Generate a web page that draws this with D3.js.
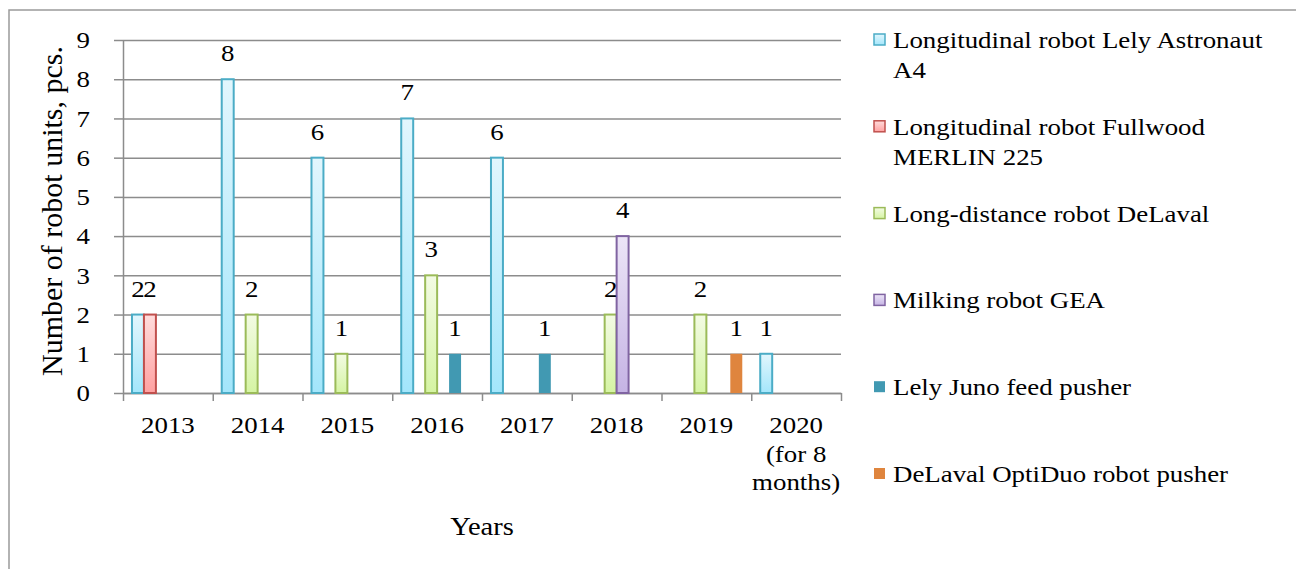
<!DOCTYPE html>
<html>
<head>
<meta charset="utf-8">
<script src="https://cdn.jsdelivr.net/npm/d3@7"></script>
<style>
  body { margin: 0; background: #fff; }
  svg text { font-family: "Liberation Serif", "Times New Roman", serif; fill: #000; }
</style>
</head>
<body>
<svg id="chart"></svg>
<script>
const years = ["2013", "2014", "2015", "2016", "2017", "2018", "2019", "2020"]
const yearLines = [["2013"], ["2014"], ["2015"], ["2016"], ["2017"], ["2018"], ["2019"], ["2020", "(for 8", "months)"]]

const seriesNames = [
  "Longitudinal robot Lely Astronaut A4",
  "Longitudinal robot Fullwood MERLIN 225",
  "Long-distance robot DeLaval",
  "Milking robot GEA",
  "Lely Juno feed pusher",
  "DeLaval OptiDuo robot pusher"
]
const legendLines = [
  ["Longitudinal robot Lely Astronaut", "A4"],
  ["Longitudinal robot Fullwood", "MERLIN 225"],
  ["Long-distance robot DeLaval"],
  ["Milking robot GEA"],
  ["Lely Juno feed pusher"],
  ["DeLaval OptiDuo robot pusher"]
]

const lelyA4     = [2, 8, 6, 7, 6, 0, 0, 1]
const fullwood   = [2, 0, 0, 0, 0, 0, 0, 0]
const delavalLD  = [0, 2, 1, 3, 0, 2, 2, 0]
const gea        = [0, 0, 0, 0, 0, 4, 0, 0]
const juno       = [0, 0, 0, 1, 1, 0, 0, 0]
const optiDuo    = [0, 0, 0, 0, 0, 0, 1, 0]
const seriesValues = [lelyA4, fullwood, delavalLD, gea, juno, optiDuo]

const yTicks = [0, 1, 2, 3, 4, 5, 6, 7, 8, 9]

// fill gradients (top, bottom) and outlines, Excel-ish
const colors = [
  { top: "#e2f6fd", bottom: "#a3e6fb", stroke: "#4bacc6" },
  { top: "#ffdcdc", bottom: "#ffa1a1", stroke: "#c0504d" },
  { top: "#f3fbe4", bottom: "#d5f4a3", stroke: "#9bbb59" },
  { top: "#ece5f7", bottom: "#c5b3e4", stroke: "#8064a2" },
  { top: "#4199b2", bottom: "#4199b2", stroke: "none" },
  { top: "#df853e", bottom: "#df853e", stroke: "none" }
]

const W = 1296, H = 569
const SX = 1.12  // the source text is a bit wider than it is tall
const plotLeft = 123, plotRight = 841, plotTop = 40, plotBottom = 393

const svg = d3.select("#chart").attr("width", W).attr("height", H)

// outer frame (only top and left edges are in view)
svg.append("rect")
  .attr("x", 9).attr("y", 10)
  .attr("width", 1400).attr("height", 700)
  .attr("fill", "none").attr("stroke", "#9a9a9a").attr("stroke-width", 1.5)

const defs = svg.append("defs")
colors.forEach((c, i) => {
  const g = defs.append("linearGradient").attr("id", "grad" + i)
    .attr("x1", 0).attr("y1", 0).attr("x2", 0).attr("y2", 1)
  g.append("stop").attr("offset", "0%").attr("stop-color", c.top)
  g.append("stop").attr("offset", "100%").attr("stop-color", c.bottom)
})

const x0 = d3.scaleBand().domain(years).range([plotLeft, plotRight]).padding(0)
const x1 = d3.scaleBand().domain(d3.range(seriesNames.length))
  .range([0, x0.bandwidth()]).paddingInner(0).paddingOuter(0.75)
const y = d3.scaleLinear().domain([0, 9]).range([plotBottom, plotTop])

function stretchText(sel) {
  sel.attr("transform", "scale(" + SX + ",1)")
     .attr("x", function() { return (+this.getAttribute("x") || 0) / SX })
}

// gridlines
svg.append("g")
  .attr("transform", "translate(" + plotLeft + ",0)")
  .call(d3.axisLeft(y).tickValues(yTicks).tickSize(-(plotRight - plotLeft)).tickFormat(""))
  .call(g => g.select(".domain").remove())
  .call(g => g.selectAll("line").attr("stroke", "#8c8c8c").attr("stroke-width", 1.5))

// y axis
svg.append("g")
  .attr("transform", "translate(" + plotLeft + ",0)")
  .call(d3.axisLeft(y).tickValues(yTicks).tickSize(9).tickPadding(24).tickSizeOuter(0))
  .call(g => g.select(".domain").attr("stroke", "#8c8c8c").attr("stroke-width", 1.5))
  .call(g => g.selectAll("line").attr("stroke", "#8c8c8c").attr("stroke-width", 1.5))
  .call(g => g.selectAll("text").style("font-size", "24px")
    .style("font-family", '"Liberation Serif", "Times New Roman", serif').attr("fill", "#000").call(stretchText))

// x axis: ticks sit on category boundaries
const xBound = d3.scaleLinear().domain([0, years.length]).range([plotLeft, plotRight])
svg.append("g")
  .attr("transform", "translate(0," + plotBottom + ")")
  .call(d3.axisBottom(xBound).tickValues(d3.range(years.length + 1)).tickSize(8).tickSizeOuter(0).tickFormat(""))
  .call(g => g.select(".domain").attr("stroke", "#8c8c8c").attr("stroke-width", 1.5))
  .call(g => g.selectAll("line").attr("stroke", "#8c8c8c").attr("stroke-width", 1.5))

// category labels
years.forEach((yr, i) => {
  const cx = x0(yr) + x0.bandwidth() / 2
  yearLines[i].forEach((line, k) => {
    svg.append("text")
      .attr("transform", "translate(" + cx + "," + (433 + k * 28.5) + ") scale(" + SX + ",1)")
      .attr("text-anchor", "middle")
      .style("font-size", "24px")
      .text(line)
  })
})

// bars
const groups = svg.append("g").selectAll("g")
  .data(years)
  .join("g")
  .attr("transform", d => "translate(" + x0(d) + ",0)")

groups.selectAll("rect")
  .data((d, i) => seriesValues.map((vals, s) => ({ s, v: vals[i] })).filter(d => d.v > 0))
  .join("rect")
  .attr("x", d => x1(d.s))
  .attr("y", d => y(d.v))
  .attr("width", x1.bandwidth())
  .attr("height", d => y(0) - y(d.v))
  .attr("fill", d => "url(#grad" + d.s + ")")
  .attr("stroke", d => colors[d.s].stroke)
  .attr("stroke-width", 2)

// value labels
groups.selectAll("text.val")
  .data((d, i) => seriesValues.map((vals, s) => ({ s, v: vals[i] })).filter(d => d.v > 0))
  .join("text")
  .attr("class", "val")
  .attr("transform", d => "translate(" + (x1(d.s) + x1.bandwidth() / 2) + "," + (y(d.v) - 18) + ") scale(" + SX + ",1)")
  .attr("text-anchor", "middle")
  .style("font-size", "24px")
  .text(d => d.v)

// axis titles
svg.append("text")
  .attr("transform", "translate(" + ((plotLeft + plotRight) / 2) + ",535) scale(" + SX + ",1)")
  .attr("text-anchor", "middle")
  .style("font-size", "25.5px")
  .text("Years")

svg.append("text")
  .attr("transform", "translate(62,211) rotate(-90)")
  .attr("text-anchor", "middle")
  .style("font-size", "30px")
  .text("Number of robot units, pcs.")

// legend
const legend = svg.append("g")
legendLines.forEach((lines, i) => {
  const by = 48 + i * 86.8
  const c = colors[i]
  legend.append("rect")
    .attr("x", 874).attr("y", by - 14)
    .attr("width", 11).attr("height", 11)
    .attr("fill", "url(#grad" + i + ")")
    .attr("stroke", c.stroke)
    .attr("stroke-width", 1.5)
  lines.forEach((line, k) => {
    legend.append("text")
      .attr("transform", "translate(893," + (by + k * 30) + ") scale(" + SX + ",1)")
      .style("font-size", "24px")
      .text(line)
  })
})
</script>
</body>
</html>
